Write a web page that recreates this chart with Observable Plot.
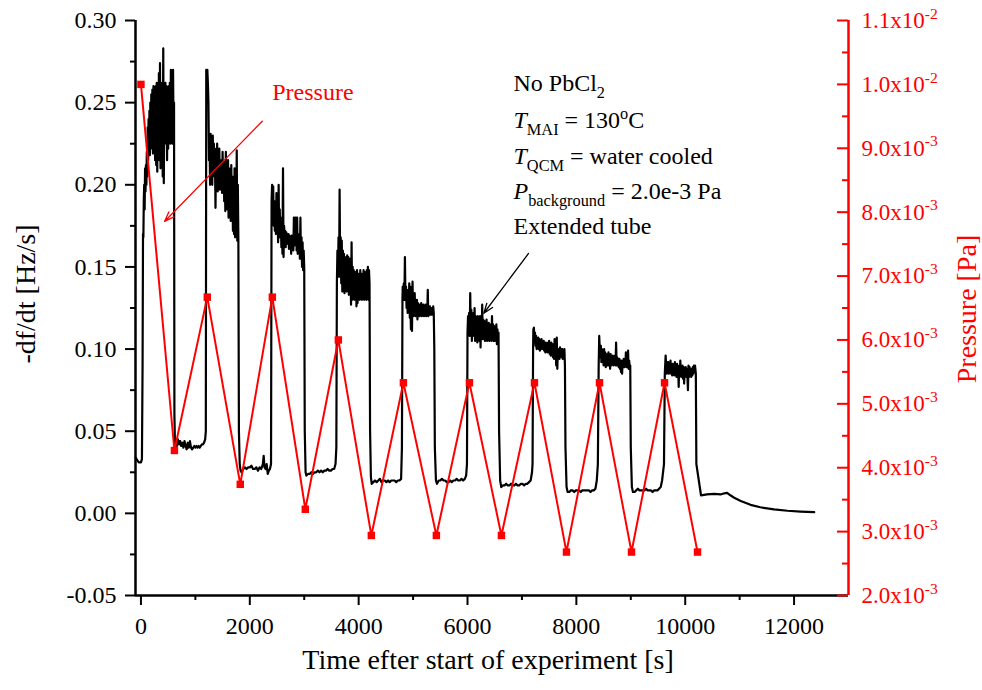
<!DOCTYPE html>
<html><head><meta charset="utf-8">
<script src="https://cdn.jsdelivr.net/npm/d3@7"></script>
<script src="https://cdn.jsdelivr.net/npm/@observablehq/plot@0.6"></script>
<style>body{margin:0;background:#fff;} #chart svg{display:block}</style>
</head><body><div id="chart"></div>
<script>
// ---- QCM rate (-df/dt, Hz/s) : [time s, value] ----
const qcmRun1 = [[-98,0.034],[-80,0.033],[-60,0.032],[-40,0.031],[-20,0.031],[0,0.031],[18,0.033],[30,0.09],[38,0.17],[45,0.168],[52,0.19],[60,0.2],[68,0.185],[76,0.21],[84,0.196],[92,0.212],[100,0.2],[108,0.22],[116,0.205],[124,0.235],[132,0.215],[140,0.24],[148,0.22],[156,0.245],[164,0.218],[172,0.25],[180,0.222],[190,0.255],[200,0.225],[210,0.258],[220,0.219],[230,0.26],[240,0.225],[250,0.257],[260,0.215],[270,0.26],[280,0.212],[290,0.262],[300,0.208],[310,0.26],[320,0.222],[330,0.268],[340,0.215],[350,0.274],[360,0.21],[370,0.26],[380,0.222],[390,0.262],[400,0.205],[410,0.283],[420,0.201],[430,0.26],[440,0.225],[450,0.262],[460,0.228],[470,0.26],[480,0.215],[490,0.258],[500,0.222],[510,0.26],[520,0.228],[530,0.262],[540,0.225],[550,0.27],[560,0.228],[570,0.26],[580,0.225],[590,0.27],[600,0.228],[608,0.25],[615,0.06],[625,0.042]];
const qcmLow1 = [[640,0.040],[660,0.041],[680,0.045],[700,0.042],[720,0.044],[740,0.041],[760,0.043],[780,0.040],[800,0.044],[820,0.041],[840,0.039],[860,0.043],[880,0.040],[900,0.044],[920,0.040],[940,0.039],[960,0.040],[980,0.041],[1000,0.040],[1020,0.041],[1040,0.040],[1060,0.041],[1080,0.040],[1100,0.041],[1120,0.042],[1140,0.042],[1160,0.043],[1180,0.045],[1192,0.05]];
const qcmRun2 = [[1200,0.27],[1210,0.268],[1220,0.27],[1230,0.262],[1240,0.25],[1250,0.215],[1260,0.23],[1270,0.2],[1280,0.231],[1290,0.205],[1300,0.228],[1310,0.2],[1320,0.23],[1330,0.21],[1340,0.225],[1350,0.205],[1360,0.215],[1370,0.186],[1380,0.222],[1390,0.2],[1400,0.225],[1410,0.196],[1420,0.215],[1430,0.2],[1440,0.222],[1450,0.197],[1460,0.21],[1470,0.198],[1480,0.215],[1490,0.195],[1500,0.22],[1510,0.2],[1520,0.212],[1530,0.19],[1540,0.214],[1550,0.184],[1560,0.22],[1570,0.19],[1580,0.21],[1590,0.185],[1600,0.215],[1610,0.18],[1620,0.21],[1630,0.19],[1640,0.205],[1650,0.178],[1660,0.212],[1670,0.182],[1680,0.205],[1690,0.172],[1700,0.2],[1710,0.17],[1720,0.21],[1730,0.168],[1740,0.195],[1750,0.17],[1760,0.221],[1770,0.166],[1780,0.2],[1790,0.168],[1800,0.05],[1815,0.03]];
const qcmLow2 = [[1830,0.026],[1850,0.025],[1880,0.027],[1910,0.028],[1940,0.027],[1970,0.028],[2000,0.028],[2030,0.029],[2060,0.027],[2090,0.027],[2120,0.028],[2150,0.026],[2180,0.028],[2210,0.027],[2240,0.030],[2255,0.035],[2270,0.028],[2290,0.027],[2310,0.030],[2330,0.024],[2350,0.026],[2370,0.027],[2390,0.03]];
const qcmRun3 = [[2400,0.19],[2410,0.2],[2420,0.18],[2430,0.199],[2440,0.175],[2450,0.19],[2460,0.172],[2470,0.185],[2480,0.17],[2490,0.195],[2500,0.175],[2510,0.182],[2520,0.165],[2530,0.2],[2540,0.168],[2550,0.185],[2560,0.17],[2570,0.18],[2580,0.162],[2590,0.178],[2600,0.158],[2610,0.21],[2620,0.156],[2630,0.175],[2640,0.168],[2650,0.172],[2660,0.162],[2670,0.171],[2680,0.168],[2690,0.17],[2700,0.164],[2710,0.17],[2720,0.161],[2730,0.169],[2740,0.166],[2750,0.168],[2760,0.158],[2770,0.169],[2780,0.162],[2790,0.168],[2800,0.16],[2810,0.18],[2820,0.163],[2830,0.18],[2840,0.166],[2850,0.18],[2860,0.16],[2870,0.18],[2880,0.158],[2890,0.17],[2900,0.162],[2910,0.168],[2920,0.155],[2930,0.18],[2940,0.155],[2950,0.168],[2960,0.15],[2970,0.165],[2980,0.148],[2990,0.16],[3000,0.15],[3010,0.05]];
const qcmLow3 = [[3025,0.025],[3040,0.023],[3070,0.024],[3100,0.024],[3130,0.025],[3160,0.024],[3190,0.025],[3220,0.025],[3250,0.026],[3280,0.025],[3310,0.026],[3340,0.025],[3370,0.026],[3400,0.026],[3430,0.027],[3460,0.026],[3490,0.026],[3520,0.027],[3550,0.027],[3575,0.03],[3590,0.04]];
const qcmRun4 = [[3600,0.14],[3610,0.16],[3620,0.145],[3630,0.168],[3640,0.144],[3650,0.197],[3660,0.15],[3670,0.168],[3680,0.14],[3690,0.166],[3700,0.135],[3710,0.16],[3720,0.14],[3730,0.158],[3740,0.134],[3750,0.155],[3760,0.138],[3770,0.156],[3780,0.135],[3790,0.157],[3800,0.14],[3810,0.156],[3820,0.133],[3830,0.155],[3840,0.14],[3850,0.15],[3860,0.127],[3870,0.165],[3880,0.13],[3890,0.15],[3900,0.135],[3910,0.148],[3920,0.13],[3930,0.147],[3940,0.134],[3950,0.145],[3960,0.126],[3970,0.148],[3980,0.128],[3990,0.146],[4000,0.132],[4010,0.145],[4020,0.13],[4030,0.148],[4040,0.132],[4050,0.146],[4060,0.13],[4070,0.145],[4080,0.131],[4090,0.148],[4100,0.13],[4110,0.147],[4120,0.133],[4130,0.146],[4140,0.13],[4150,0.148],[4160,0.132],[4170,0.15],[4180,0.13],[4190,0.148],[4200,0.14],[4210,0.05]];
const qcmLow4 = [[4225,0.022],[4240,0.018],[4270,0.019],[4300,0.020],[4330,0.019],[4360,0.020],[4390,0.021],[4420,0.019],[4450,0.020],[4480,0.020],[4510,0.019],[4540,0.020],[4570,0.019],[4600,0.020],[4630,0.020],[4660,0.020],[4690,0.019],[4720,0.020],[4750,0.020],[4780,0.021],[4795,0.04]];
const qcmRun5 = [[4805,0.13],[4810,0.138],[4820,0.135],[4830,0.14],[4840,0.13],[4850,0.156],[4860,0.13],[4870,0.138],[4880,0.125],[4890,0.136],[4900,0.122],[4910,0.134],[4920,0.125],[4930,0.14],[4940,0.119],[4950,0.138],[4960,0.112],[4970,0.135],[4980,0.111],[4990,0.141],[5000,0.12],[5010,0.132],[5020,0.122],[5030,0.134],[5040,0.12],[5050,0.13],[5060,0.122],[5070,0.13],[5080,0.118],[5090,0.128],[5100,0.121],[5110,0.127],[5120,0.12],[5130,0.127],[5140,0.121],[5150,0.128],[5160,0.12],[5170,0.126],[5180,0.121],[5190,0.127],[5200,0.12],[5210,0.126],[5220,0.121],[5230,0.127],[5240,0.12],[5250,0.126],[5260,0.121],[5270,0.136],[5280,0.12],[5290,0.126],[5300,0.121],[5310,0.126],[5320,0.121],[5330,0.125],[5340,0.121],[5350,0.125],[5360,0.121],[5370,0.126],[5380,0.122],[5390,0.1],[5400,0.04]];
const qcmLow5 = [[5420,0.02],[5440,0.018],[5470,0.020],[5500,0.020],[5530,0.021],[5560,0.020],[5590,0.020],[5620,0.019],[5650,0.019],[5680,0.020],[5710,0.019],[5740,0.020],[5770,0.020],[5800,0.021],[5830,0.020],[5860,0.020],[5890,0.021],[5920,0.020],[5950,0.021],[5975,0.023],[5990,0.03]];
const qcmRun6 = [[6000,0.11],[6010,0.12],[6020,0.112],[6030,0.122],[6040,0.108],[6050,0.134],[6060,0.11],[6070,0.124],[6080,0.105],[6090,0.12],[6100,0.108],[6110,0.122],[6120,0.11],[6130,0.125],[6140,0.105],[6150,0.12],[6160,0.108],[6170,0.118],[6180,0.104],[6190,0.12],[6200,0.107],[6210,0.118],[6220,0.105],[6230,0.12],[6240,0.101],[6250,0.119],[6260,0.108],[6270,0.127],[6280,0.106],[6290,0.118],[6300,0.107],[6310,0.117],[6320,0.105],[6330,0.116],[6340,0.107],[6350,0.118],[6360,0.105],[6370,0.115],[6380,0.107],[6390,0.116],[6400,0.105],[6410,0.115],[6420,0.106],[6430,0.114],[6440,0.105],[6450,0.12],[6460,0.106],[6470,0.115],[6480,0.105],[6490,0.114],[6500,0.105],[6510,0.113],[6520,0.106],[6530,0.115],[6540,0.103],[6550,0.112],[6560,0.104],[6570,0.11],[6580,0.05]];
const qcmLow6 = [[6600,0.02],[6620,0.016],[6650,0.017],[6680,0.017],[6710,0.018],[6740,0.017],[6770,0.017],[6800,0.018],[6830,0.017],[6860,0.017],[6890,0.018],[6920,0.017],[6950,0.017],[6980,0.018],[7010,0.018],[7040,0.017],[7070,0.018],[7100,0.018],[7130,0.019],[7160,0.02],[7185,0.025],[7195,0.03]];
const qcmRun7 = [[7205,0.1],[7210,0.112],[7220,0.113],[7230,0.105],[7240,0.11],[7250,0.102],[7260,0.108],[7270,0.1],[7280,0.106],[7290,0.101],[7300,0.107],[7310,0.1],[7320,0.106],[7330,0.099],[7340,0.105],[7350,0.1],[7360,0.106],[7370,0.101],[7380,0.104],[7390,0.1],[7400,0.105],[7410,0.099],[7420,0.104],[7430,0.098],[7440,0.104],[7450,0.1],[7460,0.103],[7470,0.098],[7480,0.104],[7490,0.099],[7500,0.105],[7510,0.097],[7520,0.102],[7530,0.096],[7540,0.104],[7550,0.098],[7560,0.103],[7570,0.095],[7580,0.102],[7590,0.094],[7600,0.106],[7610,0.095],[7620,0.101],[7630,0.09],[7640,0.107],[7650,0.088],[7660,0.1],[7670,0.095],[7680,0.1],[7690,0.094],[7700,0.101],[7710,0.096],[7720,0.1],[7730,0.095],[7740,0.1],[7750,0.094],[7760,0.099],[7770,0.096],[7780,0.1],[7790,0.09],[7800,0.04]];
const qcmLow7 = [[7820,0.016],[7840,0.013],[7870,0.013],[7900,0.014],[7930,0.014],[7960,0.013],[7990,0.014],[8020,0.014],[8050,0.014],[8080,0.013],[8110,0.014],[8140,0.014],[8170,0.014],[8200,0.014],[8230,0.014],[8260,0.013],[8290,0.014],[8320,0.014],[8350,0.015],[8375,0.02],[8395,0.03]];
const qcmRun8 = [[8410,0.09],[8420,0.108],[8430,0.1],[8440,0.095],[8450,0.102],[8460,0.092],[8470,0.1],[8480,0.094],[8490,0.099],[8500,0.09],[8510,0.1],[8520,0.093],[8530,0.098],[8540,0.089],[8550,0.097],[8560,0.09],[8570,0.096],[8580,0.09],[8590,0.098],[8600,0.09],[8610,0.096],[8620,0.088],[8630,0.097],[8640,0.09],[8650,0.095],[8660,0.091],[8670,0.096],[8680,0.09],[8690,0.095],[8700,0.091],[8710,0.096],[8720,0.09],[8730,0.104],[8740,0.09],[8750,0.095],[8760,0.09],[8770,0.094],[8780,0.089],[8790,0.094],[8800,0.088],[8810,0.093],[8820,0.086],[8830,0.093],[8840,0.085],[8850,0.092],[8860,0.089],[8870,0.094],[8880,0.089],[8890,0.092],[8900,0.09],[8910,0.098],[8920,0.089],[8930,0.095],[8940,0.089],[8950,0.099],[8960,0.088],[8970,0.093],[8980,0.089],[8990,0.09],[9000,0.04]];
const qcmLow8 = [[9020,0.016],[9040,0.013],[9070,0.013],[9100,0.014],[9130,0.015],[9160,0.014],[9190,0.014],[9220,0.014],[9250,0.014],[9280,0.015],[9310,0.014],[9340,0.014],[9370,0.014],[9400,0.013],[9430,0.014],[9460,0.014],[9490,0.014],[9520,0.015],[9550,0.016],[9575,0.02],[9610,0.03]];
const qcmRun9 = [[9625,0.085],[9640,0.096],[9650,0.09],[9660,0.085],[9670,0.092],[9680,0.087],[9690,0.092],[9700,0.085],[9710,0.09],[9720,0.086],[9730,0.093],[9740,0.085],[9750,0.09],[9760,0.084],[9770,0.091],[9780,0.086],[9790,0.09],[9800,0.084],[9810,0.092],[9820,0.085],[9830,0.09],[9840,0.083],[9850,0.091],[9860,0.085],[9870,0.089],[9880,0.077],[9890,0.09],[9900,0.083],[9910,0.093],[9920,0.084],[9930,0.089],[9940,0.083],[9950,0.09],[9960,0.082],[9970,0.089],[9980,0.079],[9990,0.088],[10000,0.084],[10010,0.089],[10020,0.083],[10030,0.088],[10040,0.084],[10050,0.075],[10060,0.09],[10070,0.083],[10080,0.089],[10090,0.085],[10100,0.088],[10110,0.083],[10120,0.088],[10130,0.084],[10140,0.089],[10150,0.085],[10160,0.09],[10170,0.086],[10180,0.09],[10195,0.085],[10205,0.03]];
const qcmTail = [[10290,0.011],[10400,0.0115],[10530,0.0118],[10650,0.0115],[10720,0.0122],[10770,0.0125],[10830,0.011],[10900,0.0095],[11020,0.0075],[11200,0.0052],[11380,0.0037],[11630,0.0024],[11880,0.0016],[12120,0.0011],[12370,0.0007]];

// ---- Pressure (Pa) ----
const pressureTime  = [0, 615, 1219, 1825, 2414, 3020, 3627, 4233, 4822, 5428, 6035, 6623, 7230, 7818, 8425, 9013, 9620, 10226];
const pressureValue = [0.0100, 0.00427, 0.00667, 0.00374, 0.00667, 0.00335, 0.00600, 0.00294, 0.00533, 0.00294, 0.00533, 0.00294, 0.00533, 0.00268, 0.00533, 0.00268, 0.00533, 0.00268];

// ---- axes ----
const xDomain = [-100, 13000];
const yDomain = [-0.05, 0.30];
const pDomain = [0.002, 0.011];
const xTicks = [0, 2000, 4000, 6000, 8000, 10000, 12000];
const xMinor = [1000, 3000, 5000, 7000, 9000, 11000];
const yTicks = [-0.05, 0, 0.05, 0.10, 0.15, 0.20, 0.25, 0.30];
const yMinor = [-0.025, 0.025, 0.075, 0.125, 0.175, 0.225, 0.275];
const pTicks = [0.002, 0.003, 0.004, 0.005, 0.006, 0.007, 0.008, 0.009, 0.010, 0.011];
const pMinor = [0.0025, 0.0035, 0.0045, 0.0055, 0.0065, 0.0075, 0.0085, 0.0095, 0.0105];
const pLabels = ["2.0x10{sup:-3}","3.0x10{sup:-3}","4.0x10{sup:-3}","5.0x10{sup:-3}","6.0x10{sup:-3}","7.0x10{sup:-3}","8.0x10{sup:-3}","9.0x10{sup:-3}","1.0x10{sup:-2}","1.1x10{sup:-2}"];

// ---- annotations (data units) ----
const noteText = ["No PbCl{sub:2}", "{i:T}{sub:MAI} = 130{sup:o}C", "{i:T}{sub:QCM} = water cooled", "{i:P}{sub:background} = 2.0e-3 Pa", "Extended tube"];
const noteTime = [6845, 6845, 6845, 6845, 6845];
const noteRate = [0.2617, 0.2391, 0.2172, 0.1959, 0.1746];
const pressureNote = {text: "Pressure", t: 2412, v: 0.256};
const pressureArrow = {t1: 2229, v1: 0.2387, t2: 434, v2: 0.1777};
const tubeArrow = {t1: 7121, v1: 0.1582, t2: 6300, v2: 0.1218};

// pressure -> left-axis units
const toLeft = p => yDomain[0] + (p - pDomain[0]) / (pDomain[1] - pDomain[0]) * (yDomain[1] - yDomain[0]);

const qcm = [].concat(qcmRun1, qcmLow1, qcmRun2, qcmLow2, qcmRun3, qcmLow3, qcmRun4, qcmLow4, qcmRun5, qcmLow5, qcmRun6, qcmLow6, qcmRun7, qcmLow7, qcmRun8, qcmLow8, qcmRun9, qcmTail).map(([t, v]) => ({t, v}));
const pressure = pressureTime.map((t, i) => ({t, p: pressureValue[i]}));
const notes = noteText.map((s, i) => ({s, t: noteTime[i], v: noteRate[i]}));
const pMapped = pTicks.map(toLeft);
const pLabelMap = new Map(pMapped.map((v, i) => [v, pLabels[i]]));

const W = 982, H = 690, ML = 135, MR = 134, MT = 20, MB = 95;
const frameW = W - ML - MR;
const font = "'Liberation Serif', 'Times New Roman', serif";

const chart = Plot.plot({
  width: W, height: H,
  marginLeft: ML, marginRight: MR, marginTop: MT, marginBottom: MB,
  x: {domain: xDomain},
  y: {domain: yDomain},
  style: {fontFamily: font, fontSize: "24px", background: "white", color: "black", overflow: "visible"},
  marks: [
    Plot.line(qcm, {x: "t", y: "v", stroke: "black", strokeWidth: 2.2, strokeLinejoin: "round"}),
    Plot.line(pressure, {x: "t", y: d => toLeft(d.p), stroke: "#ff0000", strokeWidth: 2}),
    Plot.dot(pressure, {x: "t", y: d => toLeft(d.p), symbol: "square", fill: "#ff0000", r: 4.2}),
    Plot.arrow([pressureArrow], {x1: "t1", y1: "v1", x2: "t2", y2: "v2", stroke: "#ff0000", strokeWidth: 1.3, headLength: 12, headAngle: 40}),
    Plot.arrow([tubeArrow], {x1: "t1", y1: "v1", x2: "t2", y2: "v2", stroke: "black", strokeWidth: 1.3, headLength: 12, headAngle: 40}),
    Plot.text([pressureNote], {x: "t", y: "v", text: "text", fill: "#ff0000", fontSize: 24, textAnchor: "start"}),
    Plot.text(notes, {x: "t", y: "v", text: "s", fill: "black", fontSize: 24, textAnchor: "start"}),
    // axis lines
    Plot.ruleX([xDomain[0]], {stroke: "black", strokeWidth: 2.5}),
    Plot.ruleY([yDomain[0]], {stroke: "black", strokeWidth: 2.5}),
    Plot.ruleX([xDomain[1]], {stroke: "#ff0000", strokeWidth: 2.5}),
    // bottom axis
    Plot.axisX({ticks: xTicks, tickSize: 10, tickPadding: 11, strokeWidth: 2, fontSize: 24, tickFormat: d => String(d), label: null}),
    Plot.axisX({ticks: xMinor, tickSize: 5, strokeWidth: 2, tickFormat: () => "", label: null}),
    // left axis
    Plot.axisY({ticks: yTicks, tickSize: 10, tickPadding: 9, strokeWidth: 2, fontSize: 24, tickFormat: d => d.toFixed(2), label: null}),
    Plot.axisY({ticks: yMinor, tickSize: 5, strokeWidth: 2, tickFormat: () => "", label: null}),
    // right (pressure) axis, ticks pointing inward
    Plot.tickY(pTicks, {y: d => toLeft(d), stroke: "#ff0000", strokeWidth: 2, insetLeft: frameW - 11}),
    Plot.tickY(pMinor, {y: d => toLeft(d), stroke: "#ff0000", strokeWidth: 2, insetLeft: frameW - 6}),
    Plot.axisY({anchor: "right", ticks: pMapped, tickSize: 0, tickPadding: 13, fill: "#ff0000", fontSize: 23, tickFormat: d => pLabelMap.get(d), label: null}),
    // axis titles
    Plot.text(["-df/dt [Hz/s]"], {text: d => d, frameAnchor: "left", textAnchor: "middle", lineAnchor: "middle", rotate: -90, dx: -109, dy: -14, fontSize: 28, fill: "black"}),
    Plot.text(["Pressure [Pa]"], {text: d => d, frameAnchor: "right", textAnchor: "middle", lineAnchor: "middle", rotate: -90, dx: 119, dy: 1, fontSize: 28, fill: "#ff0000"}),
    Plot.text(["Time efter start of experiment [s]"], {text: d => d, frameAnchor: "bottom", textAnchor: "middle", lineAnchor: "middle", dy: 65, dx: -4, fontSize: 28, fill: "black"})
  ]
});

// turn {i:..}, {sub:..}, {sup:..} markup into real tspans
function richify(svg) {
  const NS = "http://www.w3.org/2000/svg";
  svg.querySelectorAll("text").forEach(t => {
    const s = t.textContent;
    if (!/\{(i|sub|sup):/.test(s)) return;
    const re = /\{(i|sub|sup):([^}]*)\}/g;
    const parts = []; let last = 0, m;
    while ((m = re.exec(s))) {
      if (m.index > last) parts.push(["n", s.slice(last, m.index)]);
      parts.push([m[1], m[2]]);
      last = re.lastIndex;
    }
    if (last < s.length) parts.push(["n", s.slice(last)]);
    while (t.firstChild) t.removeChild(t.firstChild);
    let shift = 0; const r = 0.68;
    for (const [k, v] of parts) {
      const ts = document.createElementNS(NS, "tspan");
      ts.textContent = v;
      if (k === "sub" || k === "sup") {
        const target = k === "sub" ? 0.27 : -0.4;
        ts.style.fontSize = (r * 100) + "%";
        ts.setAttribute("dy", ((target - shift) / r).toFixed(3) + "em");
        shift = target;
      } else {
        if (shift) { ts.setAttribute("dy", (-shift).toFixed(3) + "em"); shift = 0; }
        if (k === "i") ts.style.fontStyle = "italic";
      }
      t.appendChild(ts);
    }
  });
}
richify(chart);
document.getElementById("chart").appendChild(chart);
</script></body></html>
